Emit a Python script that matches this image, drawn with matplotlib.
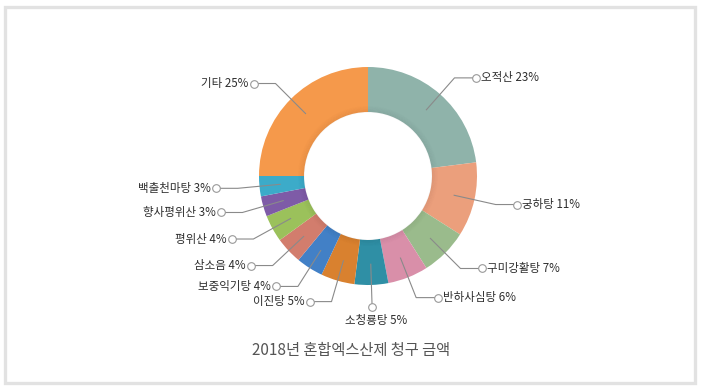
import numpy as np
import matplotlib
matplotlib.use('Agg')
import matplotlib.pyplot as plt
from matplotlib.patches import Rectangle

plt.rcParams['font.family'] = ['Noto Sans CJK KR', 'DejaVu Sans']

names = ['오적산', '궁하탕', '구미강활탕', '반하사심탕', '소청룡탕', '이진탕',
         '보중익기탕', '삼소음', '평위산', '향사평위산', '백출천마탕', '기타']
shares = [23, 11, 7, 6, 5, 5, 4, 4, 4, 3, 3, 25]
colors = ['#8fb3aa', '#eb9f7c', '#9abb8c', '#d98fa9', '#2f8fa5', '#d9812f',
          '#4280c6', '#d27d6d', '#9bc15b', '#7e5ba7', '#3cabc9', '#f5994b']
title = '2018년 혼합엑스산제 청구 금액'

W, H = 701, 391
fig = plt.figure(figsize=(W / 100, H / 100), dpi=100)
ax = fig.add_axes([0, 0, 1, 1])

cx, cy, R = 368, 215, 109
ring = 45

wedges, _ = ax.pie(shares, colors=colors, radius=R, center=(cx, cy), startangle=90,
                   counterclock=False, wedgeprops=dict(width=ring, edgecolor='none'))

ax.set_xlim(0, W)
ax.set_ylim(0, H)
ax.set_aspect('equal')
ax.axis('off')

# soft shadow on the inner edge of the ring
for k in range(8):
    circ = plt.Circle((cx, cy), R - ring + k * 0.8, fill=False, lw=1.0,
                      color='black', alpha=0.03 * (8 - k) / 8)
    ax.add_patch(circ)

line_c = '#8a8a8a'
txt_c = '#2e2e2e'
for w, name, s in zip(wedges, names, shares):
    ang = np.deg2rad((w.theta1 + w.theta2) / 2)
    c, sn = np.cos(ang), np.sin(ang)
    x0, y0 = cx + 0.81 * R * c, cy + 0.81 * R * sn
    x1, y1 = cx + 1.2 * R * c, cy + 1.2 * R * sn
    label = f'{name} {s}%'
    if abs(c) < 0.1:
        ax.plot([x0, x1], [y0, y1], color=line_c, lw=0.8, zorder=3)
        ax.plot(x1, y1, 'o', ms=5.5, mfc='white', mec='#999999', mew=0.8, zorder=4)
        ax.text(x1 + 4, y1 - 7, label, ha='center', va='top', fontsize=8.3, color=txt_c)
    else:
        sgn = 1 if c > 0 else -1
        x2 = x1 + sgn * 0.2 * R
        ax.plot([x0, x1, x2], [y0, y1, y1], color=line_c, lw=0.8, zorder=3)
        ax.plot(x2, y1, 'o', ms=5.5, mfc='white', mec='#999999', mew=0.8, zorder=4)
        ax.text(x2 + sgn * 5, y1, label, ha='left' if sgn > 0 else 'right',
                va='center', fontsize=8.3, color=txt_c)

ax.text(351, H - 350, title, ha='center', va='center', fontsize=11, color='#555555')

# light grey frame around the picture
ax.add_patch(Rectangle((5, H - 383), 690, 376, fill=False, lw=2.4, edgecolor='#e2e2e2'))

fig.savefig('out.png', dpi=100)
